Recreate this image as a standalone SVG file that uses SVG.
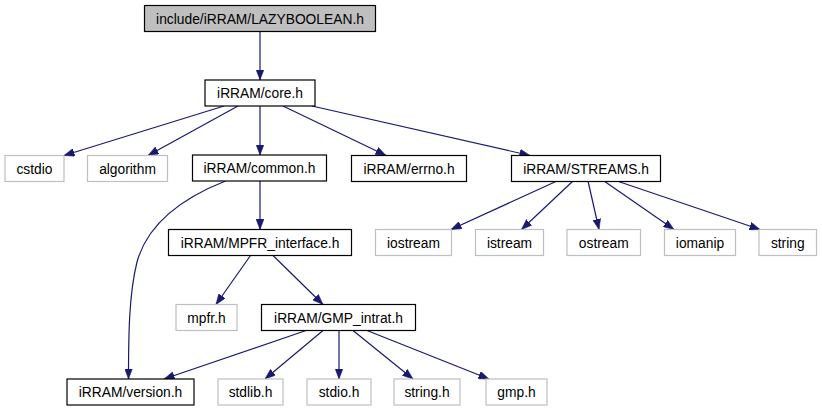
<svg xmlns="http://www.w3.org/2000/svg" width="822" height="411" viewBox="0 0 822 411">
<style>
text{font-family:"Liberation Sans",Arial,sans-serif;font-size:13.8px;fill:#000;text-anchor:middle}
.b rect{fill:#fff;stroke:#000;stroke-width:1.2}
.g rect{fill:#fff;stroke:#bfbfbf;stroke-width:1.2}
.r rect{fill:#bfbfbf;stroke:#000;stroke-width:1.2}
#edges path{fill:none;stroke:#191970;stroke-width:1.2;marker-end:url(#ah)}
</style>
<defs>
<marker id="ah" markerUnits="userSpaceOnUse" markerWidth="11" markerHeight="8" refX="10.5" refY="4" orient="auto" viewBox="0 0 11 8">
<path d="M0,0 L10.5,4 L0,8 z" fill="#191970" stroke="#191970" stroke-width="0.5"/>
</marker>
</defs>
<rect width="822" height="411" fill="#fff"/>
<g id="edges">
<path d="M260,31.5 L260,80"/>
<path d="M224,106 L64,155.5"/>
<path d="M238,106 L148,155.5"/>
<path d="M260,106 L260,155"/>
<path d="M283,106 L386,155.5"/>
<path d="M312,106 L530,155.5"/>
<path d="M260,181 L260,229.5"/>
<path d="M225.5,181 C185,197 148,222 137,262 C129,294 128.5,335 128.5,379"/>
<path d="M250.5,255.5 L216,304.5"/>
<path d="M273,255.5 L323,304.5"/>
<path d="M306,330.5 L164,379"/>
<path d="M323,330.5 L265,379"/>
<path d="M339,330.5 L339,379"/>
<path d="M353,330.5 L413,379"/>
<path d="M367,330.5 L489,379"/>
<path d="M557,181 L451,229.5"/>
<path d="M573,181 L521.5,229.5"/>
<path d="M588,181 L599,229.5"/>
<path d="M604,181 L674,229.5"/>
<path d="M617,181 L760,229.5"/>
</g>
<g id="n_lazyboolean" class="r"><rect x="144.5" y="5.5" width="231" height="26"/><text x="260" y="23.5">include/iRRAM/LAZYBOOLEAN.h</text></g>
<g id="n_core" class="b"><rect x="205" y="80" width="110" height="26"/><text x="260" y="98">iRRAM/core.h</text></g>
<g id="n_cstdio" class="g"><rect x="5" y="155.5" width="59" height="26"/><text x="34.5" y="173.5">cstdio</text></g>
<g id="n_algorithm" class="g"><rect x="87.5" y="155.5" width="80" height="26"/><text x="127.5" y="173.5">algorithm</text></g>
<g id="n_common" class="b"><rect x="192.5" y="155" width="134" height="26"/><text x="259.5" y="173">iRRAM/common.h</text></g>
<g id="n_errno" class="b"><rect x="351.5" y="155.5" width="115" height="26"/><text x="409" y="173.5">iRRAM/errno.h</text></g>
<g id="n_streams" class="b"><rect x="511.5" y="155.5" width="149" height="26"/><text x="586" y="173.5">iRRAM/STREAMS.h</text></g>
<g id="n_mpfr_interface" class="b"><rect x="168.5" y="229.5" width="183" height="26"/><text x="260" y="247.5">iRRAM/MPFR_interface.h</text></g>
<g id="n_iostream" class="g"><rect x="375.5" y="229.5" width="76" height="26"/><text x="413.5" y="247.5">iostream</text></g>
<g id="n_istream" class="g"><rect x="475.5" y="229.5" width="68" height="26"/><text x="509.5" y="247.5">istream</text></g>
<g id="n_ostream" class="g"><rect x="567" y="229.5" width="73.5" height="26"/><text x="603.75" y="247.5">ostream</text></g>
<g id="n_iomanip" class="g"><rect x="664.5" y="229.5" width="71" height="26"/><text x="700" y="247.5">iomanip</text></g>
<g id="n_string" class="g"><rect x="759" y="229.5" width="57.5" height="26"/><text x="787.75" y="247.5">string</text></g>
<g id="n_mpfr" class="g"><rect x="176" y="304.5" width="61" height="26"/><text x="206.5" y="322.5">mpfr.h</text></g>
<g id="n_gmp_intrat" class="b"><rect x="261.5" y="304.5" width="154" height="26"/><text x="338.5" y="322.5">iRRAM/GMP_intrat.h</text></g>
<g id="n_version" class="b"><rect x="67" y="379" width="127" height="26"/><text x="130.5" y="397">iRRAM/version.h</text></g>
<g id="n_stdlib" class="g"><rect x="218" y="379" width="65" height="26"/><text x="250.5" y="397">stdlib.h</text></g>
<g id="n_stdio" class="g"><rect x="307" y="379" width="64" height="26"/><text x="339" y="397">stdio.h</text></g>
<g id="n_string_h" class="g"><rect x="394" y="379" width="66" height="26"/><text x="427" y="397">string.h</text></g>
<g id="n_gmp" class="g"><rect x="486" y="379" width="61" height="26"/><text x="516.5" y="397">gmp.h</text></g>
</svg>
